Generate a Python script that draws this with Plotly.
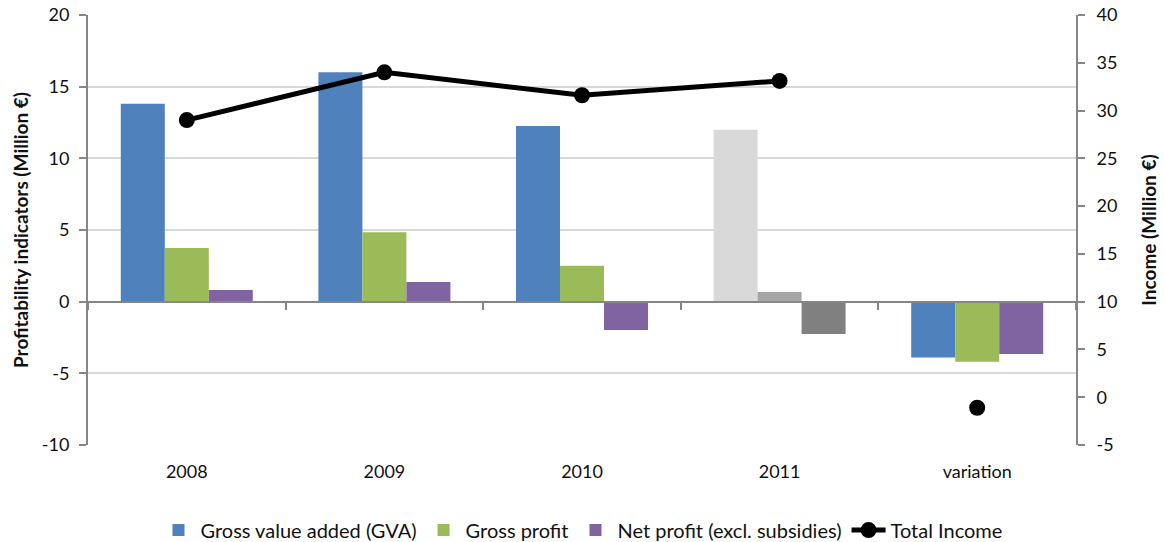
import plotly.graph_objects as go

categories = ["2008", "2009", "2010", "2011", "variation"]
gva = [13.8, 16.0, 12.26, 12.0, -3.9]
gross_profit = [3.75, 4.85, 2.5, 0.68, -4.2]
net_profit = [0.82, 1.37, -1.97, -2.25, -3.65]
income_years = ["2008", "2009", "2010", "2011"]
total_income = [29.0, 34.0, 31.6, 33.1]
income_variation = [-1.1]

left_ticks = [-10, -5, 0, 5, 10, 15, 20]
left_tick_text = ["-10", "-5", "0", "5", "10", "15", "20"]
right_ticks = [-5, 0, 5, 10, 15, 20, 25, 30, 35, 40]
right_tick_text = ["-5", "0", "5", "10", "15", "20", "25", "30", "35", "40"]

# the last year is shown in greys
gva_colors = ["#4F81BD", "#4F81BD", "#4F81BD", "#D9D9D9", "#4F81BD"]
gp_colors = ["#9BBB59", "#9BBB59", "#9BBB59", "#A6A6A6", "#9BBB59"]
np_colors = ["#8064A2", "#8064A2", "#8064A2", "#808080", "#8064A2"]

FONT = "Lato, 'Open Sans', sans-serif"
AX = "#868686"
TXT = "#111111"

fig = go.Figure()
fig.add_trace(go.Bar(x=categories, y=gva, name="Gross value added (GVA)",
                     marker=dict(color=gva_colors, line=dict(width=0))))
fig.add_trace(go.Bar(x=categories, y=gross_profit, name="Gross profit",
                     marker=dict(color=gp_colors, line=dict(width=0))))
fig.add_trace(go.Bar(x=categories, y=net_profit, name="Net profit (excl. subsidies)",
                     marker=dict(color=np_colors, line=dict(width=0))))
fig.add_trace(go.Scatter(x=income_years, y=total_income, name="Total Income",
                         mode="lines+markers", yaxis="y2",
                         line=dict(color="black", width=5),
                         marker=dict(color="black", size=16)))
fig.add_trace(go.Scatter(x=["variation"], y=income_variation, name="Total Income",
                         mode="markers", yaxis="y2", showlegend=False,
                         marker=dict(color="black", size=16)))
# axis crossing at zero, with category boundary ticks
fig.add_trace(go.Scatter(x=categories, y=[None] * 5, xaxis="x2", showlegend=False,
                         hoverinfo="skip"))

fig.update_layout(
    width=1164, height=542,
    margin=dict(l=88, r=88, t=15, b=97),
    plot_bgcolor="white", paper_bgcolor="white",
    barmode="group", bargap=0.332, bargroupgap=0,
    font=dict(family=FONT, size=18, color=TXT),
    xaxis=dict(categoryorder="array", categoryarray=categories, automargin=False,
               showline=False, ticks="", showgrid=False, zeroline=False,
               tickfont=dict(size=18), ticklabelstandoff=14),
    xaxis2=dict(overlaying="x", matches="x", anchor="free", position=1/3,
                showline=True, linecolor=AX, linewidth=2,
                ticks="outside", tickson="boundaries", ticklen=7,
                tickcolor=AX, tickwidth=2,
                showticklabels=False, showgrid=False, zeroline=False),
    yaxis=dict(range=[-10, 20], tickvals=left_ticks, ticktext=left_tick_text,
               automargin=False,
               showgrid=True, gridcolor="#D9D9D9",
               gridwidth=2, zeroline=True, zerolinecolor=AX, zerolinewidth=2,
               showline=True, linecolor=AX, linewidth=2,
               ticks="outside", ticklen=7, tickcolor=AX, tickwidth=2,
               tickfont=dict(size=18), ticklabelstandoff=6,
               title=dict(text="Profitability indicators (Million €)",
                          font=dict(size=19, family=FONT, weight="bold"),
                          standoff=8)),
    yaxis2=dict(range=[-5, 40], tickvals=right_ticks, ticktext=right_tick_text,
                overlaying="y", side="right", automargin=False,
                showgrid=False, zeroline=False,
                showline=True, linecolor=AX, linewidth=2,
                ticks="outside", ticklen=7, tickcolor=AX, tickwidth=2,
                tickfont=dict(size=18), ticklabelstandoff=8,
                title=dict(text="Income (Million €)",
                           font=dict(size=19, family=FONT, weight="bold"),
                           standoff=26)),
    legend=dict(orientation="h", x=0.5, xanchor="center",
                yref="container", y=0.022, yanchor="middle",
                font=dict(size=20), itemwidth=34),
)

fig.write_html("out.html")
